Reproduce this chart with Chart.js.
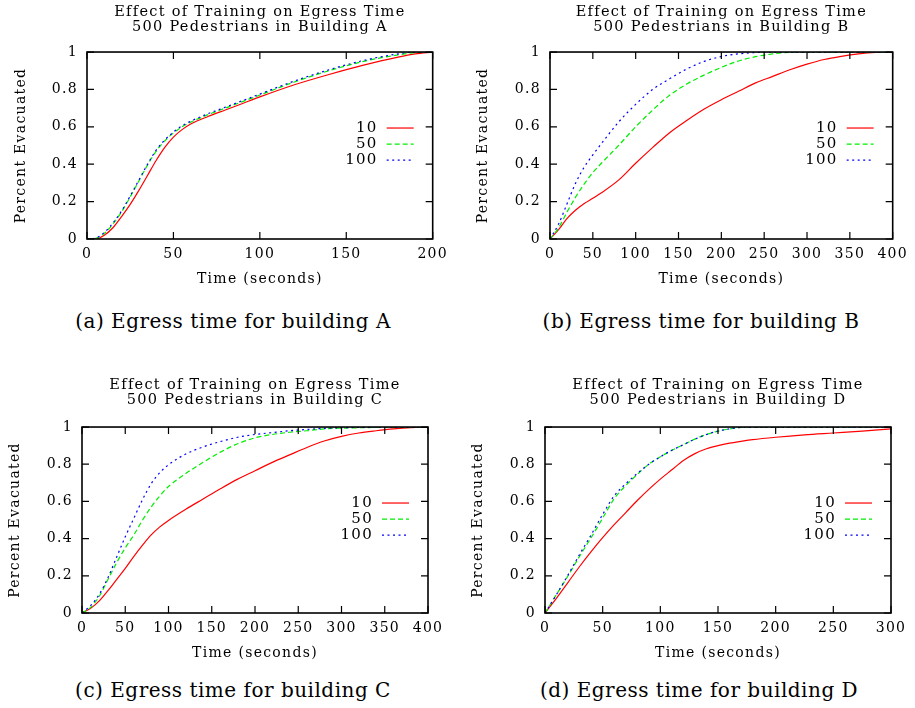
<!DOCTYPE html>
<html>
<head>
<meta charset="utf-8">
<script src="https://cdn.jsdelivr.net/npm/chart.js@4.4.0/dist/chart.umd.min.js"></script>
<style>
    body { margin: 0; background: #fff; width: 915px; height: 708px; position: relative; overflow: hidden; }
    canvas { position: absolute; }
    .cap {
        position: absolute; white-space: nowrap; transform: translate(-50%, -50%);
        font-family: "DejaVu Serif", serif; font-size: 20px; letter-spacing: 0.5px; color: #000;
    }
</style>
</head>
<body>
    <canvas id="chartA" width="455" height="290" style="left:0px;top:0px"></canvas>
    <canvas id="chartB" width="460" height="290" style="left:455px;top:0px"></canvas>
    <canvas id="chartC" width="455" height="300" style="left:0px;top:370px"></canvas>
    <canvas id="chartD" width="460" height="300" style="left:455px;top:370px"></canvas>

    <div class="cap" style="left:233px;top:321px">(a) Egress time for building A</div>
    <div class="cap" style="left:701px;top:321px">(b) Egress time for building B</div>
    <div class="cap" style="left:233px;top:690px">(c) Egress time for building C</div>
    <div class="cap" style="left:699px;top:690px">(d) Egress time for building D</div>

<script>
    // 범례 이름 (training 수준)
    const seriesLabels = ['10', '50', '100']

    // building A
    const timeA = [0, 5, 10, 15, 20, 25, 30, 35, 40, 45, 50, 55, 60, 70, 80, 90, 100, 120, 140, 160, 180, 190, 200]
    const tenA = [0, 0, 0.02, 0.06, 0.12, 0.185, 0.26, 0.34, 0.42, 0.49, 0.545, 0.585, 0.615, 0.655, 0.69, 0.725, 0.76, 0.825, 0.88, 0.93, 0.973, 0.99, 1.0]
    const fiftyA = [0, 0.003, 0.03, 0.08, 0.145, 0.225, 0.31, 0.395, 0.47, 0.525, 0.567, 0.6, 0.625, 0.665, 0.7, 0.735, 0.77, 0.84, 0.9, 0.95, 0.985, 0.997, 1.0]
    const hundredA = [0, 0.005, 0.035, 0.085, 0.15, 0.23, 0.315, 0.4, 0.475, 0.53, 0.572, 0.605, 0.63, 0.67, 0.705, 0.74, 0.775, 0.845, 0.905, 0.955, 0.99, 1.0, 1.0]

    // building B
    const timeB = [0, 10, 20, 30, 40, 50, 60, 80, 100, 120, 140, 160, 180, 200, 220, 240, 260, 280, 300, 320, 340, 360, 380, 400]
    const tenB = [0, 0.05, 0.11, 0.155, 0.19, 0.218, 0.247, 0.315, 0.405, 0.49, 0.57, 0.635, 0.695, 0.745, 0.79, 0.835, 0.87, 0.905, 0.935, 0.96, 0.977, 0.99, 0.998, 1.0]
    const fiftyB = [0, 0.06, 0.145, 0.225, 0.295, 0.355, 0.405, 0.5, 0.6, 0.69, 0.77, 0.83, 0.877, 0.918, 0.952, 0.975, 0.99, 0.998, 1.0, 1.0, 1.0, 1.0, 1.0, 1.0]
    const hundredB = [0, 0.08, 0.19, 0.3, 0.385, 0.45, 0.51, 0.625, 0.72, 0.8, 0.858, 0.91, 0.95, 0.976, 0.99, 0.997, 1.0, 1.0, 1.0, 1.0, 1.0, 1.0, 1.0, 1.0]

    // building C
    const timeC = [0, 10, 20, 30, 40, 50, 60, 70, 80, 90, 100, 120, 140, 160, 180, 200, 220, 240, 260, 280, 300, 320, 340, 360, 380, 400]
    const tenC = [0, 0.025, 0.065, 0.12, 0.18, 0.24, 0.305, 0.365, 0.42, 0.463, 0.498, 0.558, 0.613, 0.668, 0.72, 0.765, 0.81, 0.85, 0.89, 0.925, 0.95, 0.968, 0.98, 0.99, 0.997, 1.0]
    const fiftyC = [0, 0.03, 0.09, 0.18, 0.27, 0.35, 0.42, 0.5, 0.57, 0.63, 0.68, 0.75, 0.81, 0.865, 0.91, 0.942, 0.96, 0.972, 0.98, 0.99, 0.994, 0.996, 0.998, 0.999, 1.0, 1.0]
    const hundredC = [0, 0.04, 0.1, 0.19, 0.3, 0.41, 0.51, 0.61, 0.695, 0.755, 0.797, 0.855, 0.893, 0.922, 0.945, 0.96, 0.97, 0.98, 0.987, 0.993, 0.996, 0.998, 0.999, 1.0, 1.0, 1.0]

    // building D
    const timeD = [0, 10, 20, 30, 40, 50, 60, 70, 80, 90, 100, 110, 120, 130, 140, 150, 160, 170, 180, 200, 225, 250, 275, 300]
    const tenD = [0, 0.08, 0.165, 0.25, 0.33, 0.405, 0.475, 0.54, 0.605, 0.665, 0.72, 0.77, 0.82, 0.857, 0.883, 0.9, 0.913, 0.923, 0.932, 0.945, 0.958, 0.968, 0.978, 0.99]
    const fiftyD = [0, 0.1, 0.2, 0.305, 0.405, 0.51, 0.615, 0.685, 0.745, 0.8, 0.84, 0.875, 0.905, 0.935, 0.96, 0.978, 0.99, 0.998, 1.0, 1.0, 1.0, 1.0, 1.0, 1.0]
    const hundredD = [0, 0.1, 0.205, 0.315, 0.42, 0.53, 0.63, 0.695, 0.75, 0.8, 0.84, 0.875, 0.905, 0.935, 0.96, 0.978, 0.99, 0.998, 1.0, 1.0, 1.0, 1.0, 1.0, 1.0]

    const serif = 'DejaVu Serif'
    const textFont = { family: serif, size: 14, lineHeight: 1.2 }

    // gnuplot 스타일: 테두리, 안쪽 눈금, 차트 안의 범례
    const gnuplotFrame = {
        id: 'gnuplotFrame',
        beforeLayout(chart) { chart.ctx.letterSpacing = '1.3px' },
        beforeDraw(chart) { chart.ctx.letterSpacing = '1.3px' },
        afterDatasetsDraw(chart) {
            const { ctx, chartArea: a, scales: { x, y } } = chart
            ctx.save()
            ctx.strokeStyle = '#000'
            ctx.lineWidth = 1.2
            ctx.beginPath()
            x.ticks.forEach(t => {
                const px = x.getPixelForValue(t.value)
                ctx.moveTo(px, a.bottom); ctx.lineTo(px, a.bottom - 7)
                ctx.moveTo(px, a.top); ctx.lineTo(px, a.top + 7)
            })
            y.ticks.forEach(t => {
                const py = y.getPixelForValue(t.value)
                ctx.moveTo(a.left, py); ctx.lineTo(a.left + 7, py)
                ctx.moveTo(a.right, py); ctx.lineTo(a.right - 7, py)
            })
            ctx.stroke()
            ctx.lineWidth = 1.6
            ctx.strokeRect(a.left, a.top, a.right - a.left, a.bottom - a.top)

            ctx.font = '15px "DejaVu Serif"'
            ctx.textAlign = 'right'
            ctx.textBaseline = 'middle'
            ctx.fillStyle = '#000'
            chart.data.datasets.forEach((ds, i) => {
                const ly = a.top + 76 + 16 * i
                ctx.fillText(ds.label, a.right - 55, ly)
                ctx.strokeStyle = ds.borderColor
                ctx.lineWidth = ds.borderWidth
                ctx.setLineDash(ds.borderDash || [])
                ctx.beginPath()
                ctx.moveTo(a.right - 46, ly)
                ctx.lineTo(a.right - 19, ly)
                ctx.stroke()
            })
            ctx.restore()
        }
    }

    const toPoints = (times, vals) => times.map((t, i) => ({ x: t, y: vals[i] }))

    const makeChart = (id, building, times, ten, fifty, hundred, xMax, box) => {
        const canvas = document.getElementById(id)
        const H = canvas.height
        const data = {
            datasets: [
                { label: seriesLabels[0], data: toPoints(times, ten), borderColor: '#ff0000', borderDash: [], order: 2 },
                { label: seriesLabels[1], data: toPoints(times, fifty), borderColor: '#00ee00', borderDash: [5, 3], order: 1 },
                { label: seriesLabels[2], data: toPoints(times, hundred), borderColor: '#0000ff', borderDash: [2, 3.5], order: 0 }
            ].map(ds => Object.assign(ds, { borderWidth: 1.2, pointRadius: 0, fill: false, cubicInterpolationMode: 'monotone' }))
        }
        const config = {
            type: 'line',
            data: data,
            plugins: [gnuplotFrame],
            options: {
                responsive: false,
                animation: false,
                layout: { padding: { left: 0, right: canvas.width - box.right, top: 0, bottom: 0 } },
                plugins: {
                    legend: { display: false },
                    tooltip: { enabled: false },
                    title: {
                        display: true,
                        fullSize: false,
                        text: ['Effect of Training on Egress Time', '500 Pedestrians in Building ' + building],
                        font: { family: serif, size: 14.5, lineHeight: 1.07, weight: 'normal' },
                        color: '#000',
                        padding: box.titlePad
                    }
                },
                scales: {
                    x: {
                        type: 'linear', min: 0, max: xMax,
                        ticks: { stepSize: 50, padding: 7, font: textFont, color: '#000', maxRotation: 0, autoSkip: false },
                        grid: { display: false, drawTicks: false },
                        border: { display: false },
                        title: { display: true, text: 'Time (seconds)', font: textFont, color: '#000', padding: { top: 0, bottom: box.xTitle } },
                        afterFit: (s) => { s.height = H - box.bottom }
                    },
                    y: {
                        min: 0, max: 1,
                        ticks: { stepSize: 0.2, padding: 9, font: textFont, color: '#000', format: { minimumFractionDigits: 0, maximumFractionDigits: 1 } },
                        grid: { display: false, drawTicks: false },
                        border: { display: false },
                        title: { display: true, text: 'Percent Evacuated', font: textFont, color: '#000', padding: { top: box.yTitle, bottom: 0 } },
                        afterFit: (s) => { s.width = box.left }
                    }
                }
            }
        }
        return new Chart(canvas, config)
    }

    makeChart('chartA', 'A', timeA, tenA, fiftyA, hundredA, 200,
        { left: 87, right: 433, bottom: 239, titlePad: { top: 4.3, bottom: 16.7 }, yTitle: 12.6, xTitle: 2.6 })
    makeChart('chartB', 'B', timeB, tenB, fiftyB, hundredB, 400,
        { left: 95, right: 442, bottom: 239, titlePad: { top: 4.3, bottom: 16.7 }, yTitle: 19.6, xTitle: 2.6 })
    makeChart('chartC', 'C', timeC, tenC, fiftyC, hundredC, 400,
        { left: 82, right: 428, bottom: 243, titlePad: { top: 7.3, bottom: 18.7 }, yTitle: 6.6, xTitle: 8.6 })
    makeChart('chartD', 'D', timeD, tenD, fiftyD, hundredD, 300,
        { left: 90, right: 436, bottom: 243, titlePad: { top: 7.3, bottom: 18.7 }, yTitle: 14.6, xTitle: 8.6 })
</script>
</body>
</html>
